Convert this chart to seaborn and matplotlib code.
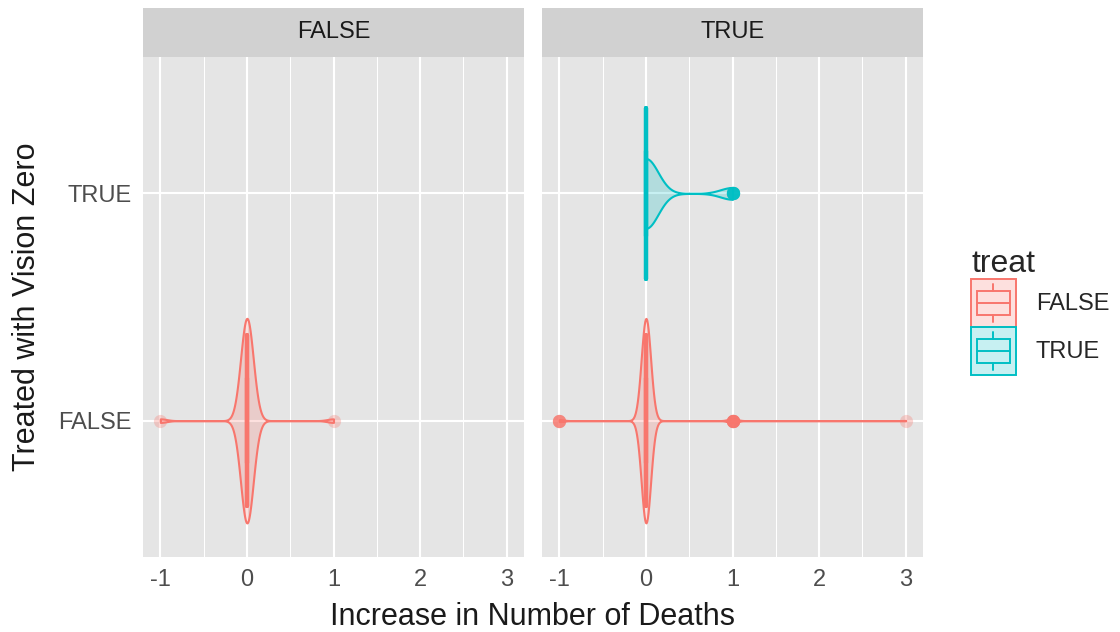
import numpy as np
import pandas as pd
import seaborn as sns
import matplotlib.pyplot as plt
from matplotlib.colors import to_rgb
from matplotlib.patches import Rectangle
from matplotlib.lines import Line2D
from matplotlib.legend_handler import HandlerBase

# values of the outcome and how many observations take each value
death_values = [-1, 0, 1, 3]
facets = ['FALSE', 'TRUE']
treat_levels = ['FALSE', 'TRUE']
counts_facetF_treatF = [1, 58, 1, 0]
counts_facetT_treatF = [5, 520, 10, 1]
counts_facetT_treatT = [0, 53, 9, 0]

groups = [('FALSE', 'FALSE', counts_facetF_treatF),
          ('TRUE', 'FALSE', counts_facetT_treatF),
          ('TRUE', 'TRUE', counts_facetT_treatT)]
df = pd.concat([pd.DataFrame({'facet': f, 'treat': t,
                              'deaths': np.repeat(death_values, c).astype(float)})
                for f, t, c in groups], ignore_index=True)

palette = {'FALSE': '#F8766D', 'TRUE': '#00BFC4'}

sns.set_style('darkgrid')
plt.rcParams['font.family'] = ['Liberation Sans', 'DejaVu Sans']
plt.rcParams['axes.unicode_minus'] = False

fig = plt.figure(figsize=(11.2, 6.32), dpi=100)
lefts = [143 / 1120, 542 / 1120]
pw = 381 / 1120
pb = 1 - 557 / 632
ph = 500 / 632

for i, facet in enumerate(facets):
    ax = fig.add_axes([lefts[i], pb, pw, ph])
    sub = df[df['facet'] == facet]

    # violins (area scaled across the panel, trimmed)
    sns.violinplot(data=sub, x='deaths', y='treat', hue='treat',
                   order=['TRUE', 'FALSE'], hue_order=treat_levels, palette=palette,
                   saturation=1, orient='h', cut=0, density_norm='area', common_norm=True,
                   bw_method='scott', bw_adjust=0.9, gridsize=512, width=0.9,
                   inner=None, linewidth=1.5, dodge=False, legend=False, ax=ax)
    for coll in ax.collections:
        r, g, b, _ = coll.get_facecolor()[0]
        coll.set_facecolor((r, g, b, 0.22))
        coll.set_edgecolor((r, g, b, 1))

    # boxplots on top
    sns.boxplot(data=sub, x='deaths', y='treat', hue='treat',
                order=['TRUE', 'FALSE'], hue_order=treat_levels, palette=palette,
                saturation=1, orient='h', fill=False, width=0.75, linewidth=3,
                fliersize=9.5, flierprops={'marker': 'o'}, dodge=False, legend=False, ax=ax)
    for ln in ax.lines:
        if ln.get_marker() == 'o':
            c = ln.get_markeredgecolor()
            ln.set_markerfacecolor(c)
            ln.set_markeredgewidth(0)
            ln.set_alpha(0.3)

    ax.set_facecolor('#E5E5E5')
    ax.set_xlim(-1.2, 3.2)
    ax.set_ylim(1.6, -0.6)
    ax.set_xticks([-1, 0, 1, 2, 3])
    ax.set_xticks([-0.5, 0.5, 1.5, 2.5], minor=True)
    ax.grid(False)
    ax.grid(which='major', color='white', linewidth=1.5)
    ax.grid(which='minor', axis='x', color='white', linewidth=0.75)
    ax.set_axisbelow(True)
    for s in ax.spines.values():
        s.set_visible(False)
    ax.tick_params(which='major', length=4.3, width=1.1, color='#333333',
                   labelsize=17, labelcolor='#4D4D4D', pad=4)
    ax.tick_params(which='minor', length=0)
    ax.set_xlabel('')
    ax.set_ylabel('')
    if i == 1:
        ax.tick_params(axis='y', left=False, labelleft=False)

    # facet strip
    strip = fig.add_axes([lefts[i], 1 - 57 / 632, pw, 49 / 632])
    strip.set_facecolor('#D1D1D1')
    strip.set_xticks([])
    strip.set_yticks([])
    for s in strip.spines.values():
        s.set_visible(False)
    strip.text(0.5, 0.5, facet, ha='center', va='center', fontsize=17, color='#1A1A1A')

fig.text(533 / 1120, 1 - 625 / 632, 'Increase in Number of Deaths', ha='center',
         va='baseline', fontsize=22, color='#1A1A1A')
fig.text(27 / 1120, 0.514, 'Treated with Vision Zero', rotation=90, ha='center',
         va='center', fontsize=22, color='#1A1A1A')


class BoxViolinKey(HandlerBase):
    def create_artists(self, legend, orig_handle, xdescent, ydescent, width, height,
                       fontsize, trans):
        c = orig_handle.get_color()
        x0, y0 = -xdescent, -ydescent
        lw = 1.4
        arts = [Rectangle((x0, y0), width, height, facecolor=(*to_rgb(c), 0.22),
                          edgecolor=c, linewidth=lw),
                Rectangle((x0 + 0.125 * width, y0 + 0.25 * height), 0.75 * width, 0.5 * height,
                          facecolor='none', edgecolor=c, linewidth=lw),
                Line2D([x0 + 0.125 * width, x0 + 0.875 * width], [y0 + 0.5 * height] * 2,
                       color=c, linewidth=lw),
                Line2D([x0 + 0.5 * width] * 2, [y0 + 0.1 * height, y0 + 0.25 * height],
                       color=c, linewidth=lw),
                Line2D([x0 + 0.5 * width] * 2, [y0 + 0.75 * height, y0 + 0.9 * height],
                       color=c, linewidth=lw)]
        for a in arts:
            a.set_transform(trans)
        return arts


handles = [Line2D([], [], color=palette[t]) for t in treat_levels]
fig.legend(handles, treat_levels, title='treat', loc='upper left',
           bbox_to_anchor=(971 / 1120, 1 - 249 / 632), frameon=False, fontsize=17,
           title_fontsize=23, handlelength=1.9, handleheight=2.75, labelspacing=0,
           handletextpad=0.85, borderpad=0, borderaxespad=0, alignment='left',
           handler_map={h: BoxViolinKey() for h in handles})

fig.savefig('out.png', dpi=100)
